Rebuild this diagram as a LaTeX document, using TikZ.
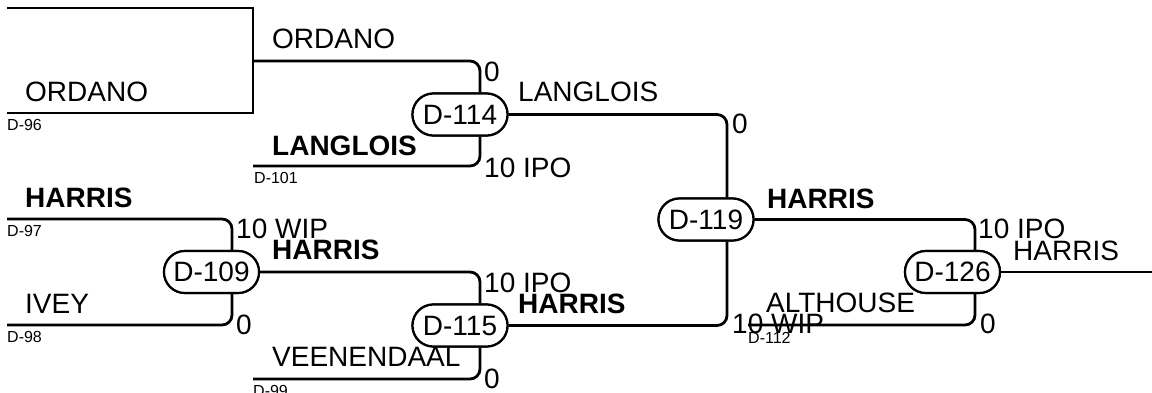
\documentclass[tikz,border=0pt]{standalone}
\usepackage{fontspec}
\setmainfont{Liberation Sans}
\newcommand{\bigtxt}{\fontsize{28}{30}\selectfont}
\newcommand{\smalltxt}{\fontsize{16}{18}\selectfont}
\begin{document}
\begin{tikzpicture}[x=1pt,y=-1pt,
  conn/.style={line width=2.8pt, rounded corners=10pt},
  sharpconn/.style={line width=2.8pt},
  pill/.style={draw, line width=2.2pt, rounded corners=20.9pt, minimum width=95pt, minimum height=42pt, inner sep=0pt, font=\bigtxt, fill=white},
  lbl/.style={anchor=base west, inner sep=0pt, font=\bigtxt},
  blbl/.style={anchor=base west, inner sep=0pt, font=\bigtxt\bfseries},
  seed/.style={anchor=base west, inner sep=0pt, font=\smalltxt}]
\useasboundingbox (0,0) rectangle (1152,392);

% match nodes
\node[pill] (D109) at (211.5,272) {D-109};
\node[pill] (D114) at (460,114.5) {D-114};
\node[pill] (D115) at (460,325.5) {D-115};
\node[pill] (D119) at (706,219.5) {D-119};
\node[pill] (D126) at (952.5,272) {D-126};

% line starts
\coordinate (t96) at (7,8);
\coordinate (s96) at (7,113);
\coordinate (j96) at (253,61);
\coordinate (s101) at (253,166);
\coordinate (s97) at (7,219);
\coordinate (s98) at (7,325);
\coordinate (s99) at (253,379);
\coordinate (s112) at (748,325);
\coordinate (out) at (1152,272);

% connectors
\draw[sharpconn] (t96) -- (t96 -| j96) -- (s96 -| j96) -- (s96);
\draw[conn] (j96) -| ([xshift=20pt]D114.north);
\draw[conn] (s101) -| ([xshift=20pt]D114.south);
\draw[conn] (D114.east) -| ([xshift=21pt]D119.north);
\draw[conn] (s97) -| ([xshift=20.5pt]D109.north);
\draw[conn] (s98) -| ([xshift=20.5pt]D109.south);
\draw[conn] (D109.east) -| ([xshift=20pt]D115.north);
\draw[conn] (s99) -| ([xshift=20pt]D115.south);
\draw[conn] (D115.east) -| ([xshift=21pt]D119.south);
\draw[conn] (D119.east) -| ([xshift=22.5pt]D126.north);
\draw[conn] (s112) -| ([xshift=22.5pt]D126.south);
\draw[conn] (D126.east) -- (out);

% redraw pills on top
\node[pill] at (D109) {D-109};
\node[pill] at (D114) {D-114};
\node[pill] at (D115) {D-115};
\node[pill] at (D119) {D-119};
\node[pill] at (D126) {D-126};

% competitor names
\node[lbl] (n1) at (272,48) {ORDANO};
\node[lbl] (n2) at (25,101) {ORDANO};
\node[lbl] (n3) at (518,101) {LANGLOIS};
\node[blbl] (n4) at (272,155) {LANGLOIS};
\node[blbl] (n5) at (25,207) {HARRIS};
\node[lbl] (n6) at (25,313) {IVEY};
\node[blbl] (n7) at (272,259) {HARRIS};
\node[lbl] (n8) at (272,366) {VEENENDAAL};
\node[blbl] (n9) at (518,313) {HARRIS};
\node[blbl] (n10) at (767,208) {HARRIS};
\node[lbl] (n11) at (766,312) {ALTHOUSE};
\node[lbl] (n12) at (1013,260) {HARRIS};

% seed labels
\node[seed] (d96) at (7,130) {D-96};
\node[seed] (d101) at (254,183) {D-101};
\node[seed] (d97) at (7,236) {D-97};
\node[seed] (d98) at (7,342) {D-98};
\node[seed] (d99) at (253,396) {D-99};
\node[seed] (d112) at (748,343) {D-112};

% scores
\node[lbl] (c1) at (484,81) {0};
\node[lbl] (c2) at (484,177) {10 IPO};
\node[lbl] (c3) at (732,133) {0};
\node[lbl] (c4) at (732,333) {10 WIP};
\node[lbl] (c5) at (236,238) {10 WIP};
\node[lbl] (c6) at (236,334) {0};
\node[lbl] (c7) at (484,292) {10 IPO};
\node[lbl] (c8) at (484,388) {0};
\node[lbl] (c9) at (978,238) {10 IPO};
\node[lbl] (c10) at (980,333) {0};
\end{tikzpicture}
\end{document}
